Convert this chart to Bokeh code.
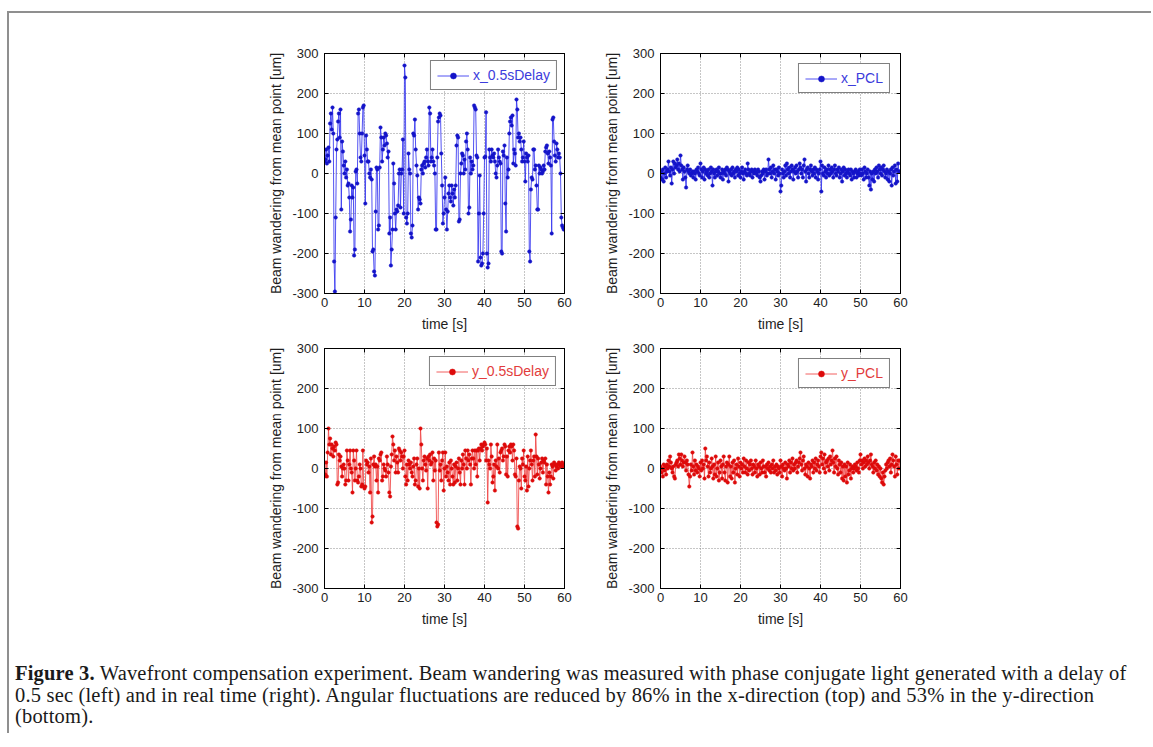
from bokeh.plotting import figure
from bokeh.models import Range1d, LinearAxis, Legend, LegendItem, Div, Spacer
from bokeh.layouts import row, column
from bokeh.embed import file_html
from bokeh.resources import INLINE

# ---------------- data ----------------
time_step_s = 0.2

x_delay = [
    30, 35, 60, 25, 45,   65, 30, 125, 150, 110,   165, 100, -220, -295, -110,
    60, 85, 130, 150, 90,   160, -90, 80, 55, 20,   0, 30, -10, 10, -30,
    -25, -60, -145, -115, -30,   -60, -35, -205, -190, 5,   10, -25, 150, 160, 100,
    40, 30, 100, 165, 170,   45, -75, 95, 60, 30,   30, 0, -10, 10, -15,
    -195, -190, -245, -255, -95,   15, 10, -140, -130, 15,   115, 90, 30, 60, 90,
    70, 100, 95, 75, 40,   55, -150, -110, -230, -190,   -140, 25, -25, -100, -140,
    -90, -95, -80, 0, 10,   -85, 0, 10, 85, -100,   270, 240, -110, -125, -100,
    50, 10, 0, -150, -160,   -130, 100, 95, 135, 60,   20, -5, -90, -60, -65,
    -75, 10, 20, 0, 25,   30, 15, 40, 60, 30,   20, 165, 150, 30, 40,
    60, 30, 20, 0, -140,   -140, 40, 130, 140, 150,   145, 50, -30, -125, -100,
    -60, -10, -90, -140, -95,   -50, -30, -60, -70, -30,   -50, -80, -40, -60, -30,
    70, 95, 90, -120, -115,   0, 25, 50, 45, 0,   35, 10, 80, 100, 60,
    -100, -85, 40, 0, 30,   10, 20, 170, 165, 160,   45, 40, -220, -100, -5,
    -210, -230, -225, -200, -100,   40, 42, 153, -200, -235,   -225, 60, 40, 30, 60,
    45, 40, 50, 30, 0,   -10, 20, 60, 40, 30,   25, -195, -200, 55, 45,
    70, -75, -145, 40, -10,   10, 100, 130, 140, 120,   145, 25, 60, 50, 20,
    185, 160, 90, 100, 80,   90, 60, 30, 40, 80,   30, -20, 50, 40, 30,
    45, -195, -220, -40, -10,   -15, 60, 60, 10, 20,   -30, -90, -90, 20, 0,
    15, 10, 0, 5, 20,   10, 55, 65, 70, 50,   25, 55, 40, 20, -150,
    135, 140, 80, 45, 30,   75, 60, 40, 50, 40,   0, -110, -130, -135, -140,
]

x_pcl = [
    -10, 5, -15, 10, -20,   0, 15, -10, 5, 10,   30, 5, -5, 15, -25,
    10, 30, 0, 25, 15,   20, 35, 10, 25, 5,   45, 20, 10, -15, 15,
    5, -10, -35, 10, 20,   5, 0, 10, -5, 0,   5, -10, 5, 0, -15,
    10, 5, 15, 0, -5,   25, 10, -10, 5, 15,   -15, 10, 0, 5, -5,
    10, -10, 0, 15, 5,   -30, 10, 0, -10, 5,   10, -5, 5, 15, 0,
    -10, 0, 10, -15, 5,   0, 10, -5, 15, 10,   -20, 5, 0, 10, -5,
    15, 0, 5, -10, 10,   5, 15, -5, 10, 0,   -10, 5, 15, 0, -15,
    5, 10, 0, -5, 25,   10, 0, -5, 5, 10,   -10, 5, 0, 10, 5,
    0, -5, 10, 5, -10,   -20, -5, 5, 0, 10,   -15, 5, 10, -5, 0,
    35, 10, 0, 15, -10,   5, 20, 0, 10, -15,   10, 5, -5, 15, 0,
    -45, -30, 10, 0, -10,   5, 20, -5, 25, 10,   0, 15, -10, 5, 20,
    10, -15, 5, 15, 0,   20, 5, -10, 10, 25,   15, 0, 10, -10, 20,
    35, 5, -20, 10, 15,   0, -10, 10, 20, 5,   -5, 10, 0, 15, -10,
    10, 5, -15, 0, 10,   30, -45, 20, 0, -5,   15, 5, -10, 10, 0,
    20, -5, 10, 0, 15,   5, -10, 10, 20, 0,   -5, 10, 5, 15, -10,
    0, 10, -20, 5, 15,   -5, 10, 0, -10, 5,   10, 0, -5, 10, -15,
    5, 0, -10, 5, 10,   -10, 0, 5, -5, 10,   0, -5, 10, 0, -15,
    15, 5, -10, 0, 10,   -10, -30, 5, -40, 0,   -15, 5, -20, 10, 0,
    15, 5, -10, 20, 10,   0, 15, -5, 10, 20,   5, -10, 0, 10, -15,
    5, -20, 0, 10, -30,   15, -5, 5, 20, -25,   10, -20, 25, 5, 5,
]

y_delay = [
    -20, -15, 15, -20, 40,   100, 60, 75, 35, 60,   50, 30, 55, 45, 65,
    60, -40, -35, 35, 20,   30, 5, -20, 0, 10,   0, -40, -30, 45, 20,
    -30, 10, 45, 0, -10,   -60, 45, 20, -30, 0,   45, -30, -35, -20, 10,
    0, -45, -40, 45, -45,   -50, -45, 20, 10, 15,   -10, 5, -60, 25, -135,
    -120, 10, 30, 5, 10,   -30, 5, -60, 25, 20,   35, 40, -30, -20, 10,
    0, -5, -20, 30, 10,   -10, -60, -70, 5, 35,   80, 60, 20, 45, -10,
    30, 15, -10, 50, 45,   20, 40, 30, 0, 30,   45, -20, -40, 10, -30,
    20, 10, 0, 15, -10,   -20, 5, 25, -40, -30,   10, 25, -45, 0, -50,
    100, 60, 0, -30, 20,   30, 10, -5, 25, -50,   30, 20, 35, 10, 15,
    40, -30, 25, -5, 20,   -135, -145, -140, 40, -5,   10, -30, 20, 40, -55,
    0, 40, -20, 5, -10,   -30, 15, -40, 20, 0,   -20, -40, 10, -35, 5,
    15, -30, 0, 25, -10,   -40, 20, 0, 35, 10,   -40, 45, 25, 0, 45,
    20, 35, 10, -40, 25,   45, 25, 0, 45, 10,   45, -20, 45, 50, 20,
    50, 60, 45, 55, 60,   65, 60, 20, 50, -85,   20, 10, 0, 60, 30,
    -35, -20, 10, -55, 20,   5, 60, 0, 25, -10,   40, 45, 50, 20, 30,
    60, 55, -15, 30, -20,   45, 55, 40, 60, 55,   20, 60, 45, -15, -20,
    25, -145, -150, -30, 5,   0, -50, 25, 10, 45,   -20, -30, 5, -55, 30,
    -45, 0, 20, 45, 10,   -30, 20, 30, -20, 85,   30, -15, 25, 10, -25,
    0, 15, 25, -10, 20,   15, 25, -40, 10, -20,   -60, -10, -40, -20, 10,
    5, -25, 15, 10, -5,   5, 10, 0, 15, 10,   5, 10, 15, 5, 10,
]

y_pcl = [
    5, -10, 0, -20, 10,   -5, 5, -15, 10, 0,   20, 5, 30, 15, 0,
    -10, 5, -20, -25, 10,   15, 20, 5, 35, 25,   10, 35, 20, 5, 15,
    30, 15, -5, 20, 10,   -15, -45, -20, 10, -5,   40, 5, -15, 20, -5,
    10, -10, 5, 0, -20,   15, -5, 20, 0, 10,   -25, 50, 20, 30, 5,
    -20, 15, -10, 0, 25,   5, -25, 10, -15, 30,   -20, 0, 15, -30, -10,
    20, 5, -25, 10, 30,   -10, -30, 5, 15, -35,   10, 30, -20, 5, -25,
    15, -10, 20, -35, 0,   10, -15, 25, 5, -20,   15, 0, 10, -10, 25,
    5, -10, 20, 0, -15,   15, -5, 10, 20, 0,   -15, 10, 5, -10, 20,
    0, -20, 10, 5, -15,   15, 0, -10, 20, 5,   -10, 5, -20, 10, 0,
    15, -5, 5, -10, 10,   0, 20, -10, 5, -5,   10, -15, 5, 0, -10,
    20, 5, -20, 10, 0,   -5, 15, 0, -25, 10,   5, 20, -10, 15, 0,
    25, -5, 10, 0, 15,   20, -10, 5, 15, 25,   40, 10, -5, 20, 30,
    0, -15, 10, 5, -20,   15, 0, -25, 10, 5,   20, -10, 15, 0, 25,
    -5, 10, 20, 5, -10,   30, 40, 10, 25, 0,   35, -10, 15, 20, 5,
    25, -5, 30, 10, 20,   45, 15, -10, 25, 5,   30, 0, -15, 20, 10,
    -10, 15, -25, 5, -30,   10, -20, 5, -35, 15,   -15, -5, 10, -25, 0,
    5, -10, 0, 10, 5,   -5, 15, 0, -10, 20,   35, 10, 20, 0, 15,
    25, 5, 20, 10, 30,   15, 0, 20, 35, 10,   5, -10, 15, 0, 20,
    -5, 10, -15, 5, -20,   0, -25, -35, -10, -40,   -20, -5, 10, 0, 15,
    20, 5, 25, -10, 10,   35, 20, 5, -20, 30,   10, -15, 20, 0, 20,
]

time_s = [round(i * time_step_s, 1) for i in range(len(x_delay))]

x_ticks = [0, 10, 20, 30, 40, 50, 60]
y_ticks = [-300, -200, -100, 0, 100, 200, 300]
x_label = "time [s]"
y_label = "Beam wandering from mean point [um]"

BLUE_LINE, BLUE_DOT, BLUE_TXT = "#3535f0", "#1414c8", "#3c3cdc"
RED_LINE, RED_DOT, RED_TXT = "#f04545", "#dd0a0a", "#e23c3c"
SANS = "Liberation Sans"


def make_panel(values, name, line_c, dot_c, txt_c, top_border, right_border, leg_margin):
    p = figure(frame_width=240, frame_height=240,
               x_range=Range1d(0, 60), y_range=Range1d(-300, 300),
               output_backend="svg", toolbar_location=None,
               min_border_left=70, min_border_right=right_border,
               min_border_top=top_border, min_border_bottom=45,
               background_fill_color="white", border_fill_color="white")
    p.outline_line_color = "black"
    p.outline_line_width = 1

    p.xaxis.ticker = x_ticks
    p.yaxis.ticker = y_ticks
    p.yaxis.major_label_overrides = {t: str(t) for t in y_ticks}
    p.xaxis.axis_label = x_label
    p.yaxis.axis_label = y_label
    for ax in (p.xaxis, p.yaxis):
        ax.major_tick_in = 4
        ax.major_tick_out = 0
        ax.minor_tick_in = 0
        ax.minor_tick_out = 0
        ax.axis_line_color = "black"
        ax.major_tick_line_color = "black"
        ax.major_label_text_font = SANS
        ax.major_label_text_font_size = "13px"
        ax.major_label_text_color = "#1e1e1e"
        ax.axis_label_text_font = SANS
        ax.axis_label_text_font_size = "14px"
        ax.axis_label_text_font_style = "normal"
        ax.axis_label_text_color = "#1e1e1e"
    p.xaxis.major_label_standoff = 4
    p.yaxis.major_label_standoff = 6
    p.xaxis.axis_label_standoff = 6
    p.yaxis.axis_label_standoff = 5

    top_ax = LinearAxis(ticker=x_ticks, major_tick_in=4, major_tick_out=0,
                        minor_tick_in=0, minor_tick_out=0,
                        major_label_overrides={t: "" for t in x_ticks},
                        axis_line_color="black")
    right_ax = LinearAxis(ticker=y_ticks, major_tick_in=4, major_tick_out=0,
                          minor_tick_in=0, minor_tick_out=0,
                          major_label_overrides={t: "" for t in y_ticks},
                          axis_line_color="black")
    p.add_layout(top_ax, "above")
    p.add_layout(right_ax, "right")

    p.xgrid.ticker = x_ticks
    p.ygrid.ticker = y_ticks
    p.grid.grid_line_color = "#8c8c8c"
    p.grid.grid_line_dash = "1 2"
    p.grid.grid_line_width = 1

    r_line = p.line(time_s, values, line_color=line_c, line_width=1, line_alpha=0.85)
    r_dot = p.scatter(time_s, values, marker="circle", size=3.5,
                      fill_color=dot_c, line_color=dot_c, line_width=0.5)

    leg = Legend(items=[LegendItem(label=name, renderers=[r_line, r_dot])],
                 location="top_right", margin=leg_margin, padding=6, spacing=0,
                 glyph_width=32, glyph_height=15, label_height=15,
                 label_standoff=4, label_text_font=SANS,
                 label_text_font_size="14px", label_text_color=txt_c,
                 border_line_color="black", border_line_width=1,
                 background_fill_color="white", background_fill_alpha=1)
    p.add_layout(leg)
    return p


p_tl = make_panel(x_delay, "x_0.5sDelay", BLUE_LINE, BLUE_DOT, BLUE_TXT, 40, 26, 7)
p_tr = make_panel(x_pcl, "x_PCL", BLUE_LINE, BLUE_DOT, BLUE_TXT, 40, 20, 10)
p_bl = make_panel(y_delay, "y_0.5sDelay", RED_LINE, RED_DOT, RED_TXT, 10, 26, 8)
p_br = make_panel(y_pcl, "y_PCL", RED_LINE, RED_DOT, RED_TXT, 10, 20, 10)

caption = Div(
    text=("<b>Figure 3.</b> Wavefront compensation experiment. Beam wandering was measured "
          "with phase conjugate light generated with a delay of<br>"
          "0.5 sec (left) and in real time (right). Angular fluctuations are reduced by 86% "
          "in the x-direction (top) and 53% in the y-direction<br>"
          "(bottom)."),
    width=1120,
    styles={"font-family": "Liberation Serif", "font-size": "20.5px",
            "letter-spacing": "0.18px",
            "line-height": "21.7px", "color": "#1a1a1a", "white-space": "nowrap"},
)

layout = column(
    row(Spacer(width=245), p_tl, p_tr),
    row(Spacer(width=245), p_bl, p_br),
    Spacer(height=25),
    row(Spacer(width=1), caption),
    styles={"border-top": "2px solid #8f8f8f", "border-left": "2px solid #8f8f8f",
            "margin-top": "11px", "margin-left": "7px", "min-width": "1144px"},
)

open("out.html", "w").write(file_html(layout, INLINE))
